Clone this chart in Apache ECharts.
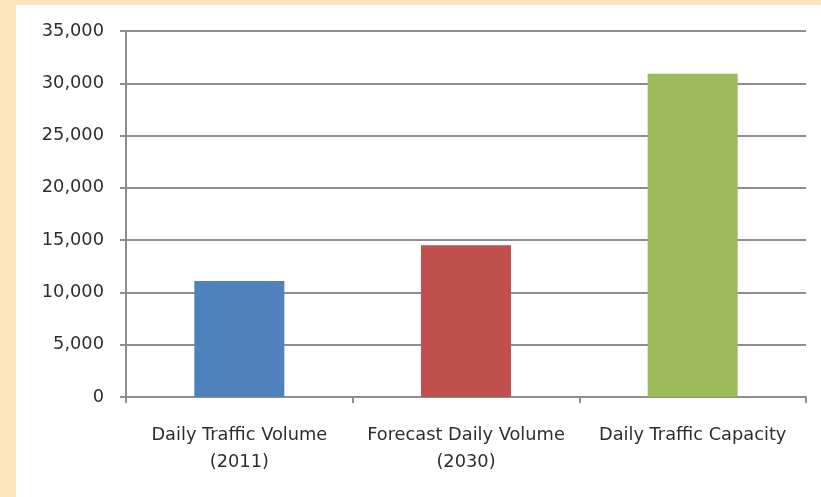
<!DOCTYPE html>
<html>
<head>
<meta charset="utf-8">
<script src="https://cdn.jsdelivr.net/npm/echarts@6/dist/echarts.min.js"></script>
<style>
  html, body { margin: 0; padding: 0; width: 821px; height: 497px; background: #fce5bc; overflow: hidden; }
  #panel { position: absolute; left: 16px; top: 5px; width: 805px; height: 492px; background: #ffffff; }
</style>
</head>
<body>
<div id="panel"></div>
<script>
// Daily traffic: current volume, 2030 forecast and road capacity
const categories = ['Daily Traffic Volume\n(2011)', 'Forecast Daily Volume\n(2030)', 'Daily Traffic Capacity'];
const values = [11100, 14500, 30900];
const barColors = ['#4f81bd', '#c0504d', '#9bbb59'];
const yTicks = { min: 0, max: 35000, interval: 5000 };

const font = 'DejaVu Sans';
const textColor = '#2e2e2e';
const lineColor = '#8e8e8e';

const chart = echarts.init(document.getElementById('panel'), null, { renderer: 'canvas' });
chart.setOption({
  animation: false,
  backgroundColor: '#ffffff',
  grid: { left: 110, right: 15, top: 26, bottom: 100 },
  xAxis: {
    type: 'category',
    data: categories,
    axisLine: { lineStyle: { color: lineColor, width: 2 } },
    axisTick: { show: true, length: 6, alignWithLabel: false, lineStyle: { color: lineColor, width: 2 } },
    axisLabel: {
      interval: 0,
      margin: 25,
      fontFamily: font,
      fontSize: 17.8,
      lineHeight: 27,
      color: textColor
    },
    splitLine: { show: false }
  },
  yAxis: {
    type: 'value',
    min: yTicks.min,
    max: yTicks.max,
    interval: yTicks.interval,
    axisLine: { show: true, lineStyle: { color: lineColor, width: 2 } },
    axisTick: { show: true, length: 6, lineStyle: { color: lineColor, width: 2 } },
    axisLabel: {
      margin: 22,
      fontFamily: font,
      fontSize: 17.8,
      color: textColor,
      formatter: v => v.toLocaleString('en-US')
    },
    splitLine: { show: true, lineStyle: { color: lineColor, width: 2 } }
  },
  series: [{
    type: 'bar',
    data: values.map((v, i) => ({ value: v, itemStyle: { color: barColors[i] } })),
    barWidth: 90
  }]
});
</script>
</body>
</html>
